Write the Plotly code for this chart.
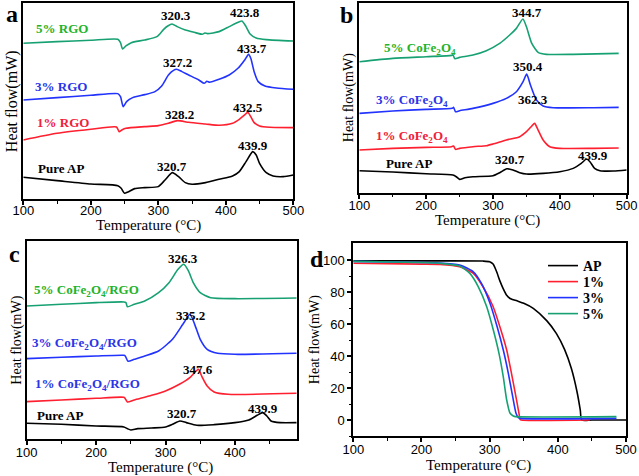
import plotly.graph_objects as go

# ---------------- Panel a : AP with RGO (DSC, arbitrary units) ----------------
a_ap_T = [100, 150, 200, 240, 245, 250, 255, 265, 280, 300, 310, 320.7, 330, 340, 350, 370, 390, 410, 420, 430, 439.9, 445, 450, 460, 470, 485, 500]
a_ap_v = [68, 58, 48, 43, 35, 20, 24, 34, 37, 40, 60, 82, 70, 52, 47, 52, 62, 72, 85, 115, 145, 135, 110, 82, 72, 70, 75]
a_1_T = [100, 150, 200, 238, 242, 246, 252, 280, 300, 315, 328.2, 345, 370, 390, 410, 420, 428, 432.5, 437, 442, 450, 465, 500]
a_1_v = [180, 200, 212, 219, 205, 210, 215, 220, 223, 230, 238, 233, 228, 224, 230, 242, 255, 263, 250, 232, 222, 218, 217]
a_3_T = [100, 150, 200, 240, 244, 248, 253, 262, 280, 295, 305, 315, 322, 327.2, 335, 345, 360, 368, 372, 376, 390, 405, 418, 428, 433.7, 437, 442, 448, 458, 475, 500]
a_3_v = [300, 307, 314, 319, 310, 280, 295, 307, 316, 325, 342, 375, 388, 392, 385, 375, 360, 350, 356, 353, 362, 375, 395, 420, 437, 425, 385, 355, 342, 336, 332]
a_5_T = [100, 150, 200, 240, 244, 247, 252, 260, 280, 298, 308, 314, 320.3, 328, 340, 355, 365, 369, 373, 390, 405, 415, 423.8, 430, 436, 445, 460, 500]
a_5_v = [470, 475, 479, 482, 472, 453, 462, 472, 480, 490, 512, 522, 528, 520, 510, 502, 497, 501, 499, 505, 520, 530, 537, 520, 498, 486, 481, 477]

# ---------------- Panel b : AP with CoFe2O4 ----------------
b_ap_T = [100, 150, 200, 240, 245, 250, 258, 270, 300, 310, 320.7, 330, 340, 350, 375, 400, 420, 432, 439.9, 445, 452, 460, 480, 500]
b_ap_v = [68, 64, 59, 55, 50, 42, 47, 50, 53, 62, 74, 70, 62, 58, 60, 65, 75, 90, 103, 95, 75, 68, 67, 70]
b_1_T = [100, 150, 200, 238, 241, 244, 250, 270, 290, 300, 320, 340, 350, 358, 362.3, 367, 375, 385, 400, 450, 488]
b_1_v = [130, 135, 138, 140, 142, 132, 135, 140, 143, 148, 160, 170, 185, 202, 210, 192, 160, 140, 135, 135, 136]
b_3_T = [100, 150, 200, 239, 241, 244, 250, 270, 300, 320, 335, 345, 350.4, 356, 365, 375, 390, 450, 488]
b_3_v = [240, 247, 252, 255, 258, 245, 248, 255, 270, 285, 305, 335, 358, 325, 280, 262, 257, 257, 258]
b_5_T = [100, 150, 200, 238, 240, 243, 250, 270, 290, 310, 325, 335, 344.7, 350, 358, 368, 380, 420, 488]
b_5_v = [395, 405, 410, 414, 416, 404, 408, 415, 428, 450, 475, 495, 523, 500, 450, 422, 417, 417, 420]

# ---------------- Panel c : AP with CoFe2O4/RGO ----------------
c_ap_T = [100, 150, 200, 240, 245, 250, 260, 280, 300, 310, 320.7, 330, 345, 370, 400, 420, 432, 439.9, 446, 452, 465, 489]
c_ap_v = [50, 47, 42, 39, 34, 30, 34, 36, 39, 47, 57, 52, 44, 46, 52, 60, 74, 82, 72, 57, 52, 52]
c_1_T = [100, 150, 200, 240, 242, 245, 255, 280, 300, 320, 335, 344, 347.6, 352, 360, 370, 390, 489]
c_1_v = [115, 120, 125, 128, 124, 114, 120, 134, 147, 167, 187, 207, 212, 192, 162, 144, 137, 140]
c_3_T = [100, 150, 200, 240, 242, 246, 255, 270, 290, 310, 325, 335.2, 342, 350, 360, 375, 400, 489]
c_3_v = [244, 248, 252, 254, 252, 236, 242, 252, 267, 302, 347, 377, 347, 302, 272, 260, 257, 260]
c_5_T = [100, 150, 200, 240, 243, 245, 255, 270, 290, 305, 318, 326.3, 333, 340, 350, 365, 400, 489]
c_5_v = [402, 407, 412, 414, 412, 400, 407, 417, 442, 472, 512, 527, 507, 472, 442, 427, 424, 426]

# ---------------- Panel d : TG curves ----------------
d_ap_T = [100, 200, 290, 300, 305, 310, 315, 320, 325, 330, 340, 350, 364, 384, 398, 410, 420, 428, 433, 435, 450, 500]
d_ap_v = [99.6, 99.5, 99.4, 99.0, 97.5, 93, 87, 82, 78, 76, 74.5, 73, 69.8, 62, 54, 44, 32, 18, 6, 0, 0, 0]
d_1_T = [100, 200, 227, 256, 276, 290, 305, 315, 325, 332, 338.5, 343, 344.5, 346, 447]
d_1_v = [98, 97.5, 97.3, 95.8, 91.7, 83.5, 71, 58.3, 43.75, 29.2, 14.6, 4.2, 0.4, 0, 0]
d_3_T = [100, 200, 227, 256, 276, 288, 300.5, 311, 320, 327.4, 333.8, 338.7, 342, 345, 486]
d_3_v = [99.2, 98.5, 98.2, 96.9, 92.7, 85.4, 73, 58.3, 43.75, 29.2, 14.6, 4.2, 1.5, 1, 1]
d_5_T = [100, 200, 227, 256, 271, 283.4, 295.7, 305.4, 313.7, 320, 325, 330, 334.7, 338, 486]
d_5_v = [99.2, 98.5, 98.0, 96.3, 91.7, 83.3, 70.8, 56.25, 41.7, 27, 12.5, 4.2, 2.5, 2.1, 2.1]

x_ticks = [100, 200, 300, 400, 500]
y_ticks_d = [0, 20, 40, 60, 80, 100]

BLACK = "#000000"
RED = "#ff1f2f"
BLUE = "#2233ff"
GREEN = "#17a173"
RED_T = "#f0203a"
BLUE_T = "#2a35e8"
GREEN_T = "#22b32a"

SERIF = "Liberation Serif"
SANS = "Liberation Sans"

W, H = 639, 476

fig = go.Figure()

def add(T, v, color, xa, ya, name=None, legend=None):
    fig.add_trace(go.Scatter(
        x=T, y=v, mode="lines", name=name, showlegend=legend is not None,
        legend=legend if legend else "legend",
        line=dict(color=color, width=1.6, shape="spline", smoothing=0.6),
        xaxis=xa, yaxis=ya, hoverinfo="skip"))

for T, v, c in [(a_ap_T, a_ap_v, BLACK), (a_1_T, a_1_v, RED), (a_3_T, a_3_v, BLUE), (a_5_T, a_5_v, GREEN)]:
    add(T, v, c, "x", "y")
for T, v, c in [(b_ap_T, b_ap_v, BLACK), (b_1_T, b_1_v, RED), (b_3_T, b_3_v, BLUE), (b_5_T, b_5_v, GREEN)]:
    add(T, v, c, "x2", "y2")
for T, v, c in [(c_ap_T, c_ap_v, BLACK), (c_1_T, c_1_v, RED), (c_3_T, c_3_v, BLUE), (c_5_T, c_5_v, GREEN)]:
    add(T, v, c, "x3", "y3")
legend_rows = [266, 282, 298, 314]
for (T, v, c, n), lg in zip([(d_ap_T, d_ap_v, BLACK, "AP"), (d_1_T, d_1_v, RED, "1%"),
                             (d_3_T, d_3_v, BLUE, "3%"), (d_5_T, d_5_v, GREEN, "5%")],
                            ["legend", "legend2", "legend3", "legend4"]):
    add(T, v, c, "x4", "y4", name="<b>%s</b>" % n, legend=lg)

def dx(p0, p1):
    return [p0 / W, p1 / W]
def dy(top, bottom):
    return [1 - bottom / H, 1 - top / H]

def xaxis(dom, rng, tickvals, anchor, lab_off):
    return dict(domain=dom, range=rng, anchor=anchor, automargin=False,
                showline=True, linecolor="black", linewidth=2, mirror=True,
                showgrid=False, zeroline=False,
                ticks="outside", ticklen=4, tickwidth=1.5, tickcolor="black",
                tickvals=tickvals, ticktext=[str(t) for t in tickvals],
                ticklabelstandoff=lab_off,
                tickfont=dict(family=SANS, size=13, color="black"),
                minor=dict(tickvals=[150, 250, 350, 450], ticks="outside", ticklen=2.5, tickwidth=1.2, tickcolor="black"))

def yaxis_blank(dom, rng, anchor, size):
    return dict(domain=dom, range=rng, anchor=anchor, automargin=False,
                showline=True, linecolor="black", linewidth=2, mirror=True,
                showgrid=False, zeroline=False, ticks="", showticklabels=False,
                title=dict(text="Heat flow(mW)", font=dict(family=SERIF, size=size, color="black"), standoff=0))

def legend_at(py):
    return dict(x=543 / W, y=1 - py / H, xanchor="left", yanchor="middle",
                bgcolor="rgba(0,0,0,0)", borderwidth=0,
                font=dict(family=SERIF, size=14, color="black"), itemwidth=30)

layout = dict(
    width=W, height=H, margin=dict(l=0, r=0, t=0, b=0, autoexpand=False),
    paper_bgcolor="white", plot_bgcolor="white",
    xaxis=xaxis(dx(23.3, 293.3), [100, 500], x_ticks, "y", -6),
    yaxis=yaxis_blank(dy(3.3, 199.3), [2, 590], "x", 16),
    xaxis2=xaxis(dx(359.3, 626.7), [100, 500], x_ticks, "y2", -4),
    yaxis2=yaxis_blank(dy(2.7, 192.7), [2, 572], "x2", 14),
    xaxis3=xaxis(dx(26.7, 296.7), [100, 489], x_ticks[:4], "y3", -4),
    yaxis3=yaxis_blank(dy(241, 439.3), [2, 597], "x3", 14),
    xaxis4=xaxis(dx(353.3, 626), [100, 500], x_ticks, "y4", -4),
    yaxis4=dict(domain=dy(243.3, 436), range=[-10, 110.5], anchor="x4", automargin=False,
                showline=True, linecolor="black", linewidth=2, mirror=True,
                showgrid=False, zeroline=False,
                ticks="outside", ticklen=4, tickwidth=1.5, tickcolor="black",
                tickvals=y_ticks_d, ticktext=[str(t) for t in y_ticks_d],
                tickfont=dict(family=SANS, size=13, color="black"),
                minor=dict(tickvals=[-10, 10, 30, 50, 70, 90], ticks="outside", ticklen=2.5, tickwidth=1.2, tickcolor="black"),
                title=dict(text="Heat flow(mW)", font=dict(family=SERIF, size=14, color="black"), standoff=0)),
    legend=legend_at(legend_rows[0]),
    legend2=legend_at(legend_rows[1]),
    legend3=legend_at(legend_rows[2]),
    legend4=legend_at(legend_rows[3]),
    showlegend=True,
)
fig.update_layout(**layout)

def ann(text, x, y, xr, yr, color="black", size=13, bold=True):
    fig.add_annotation(text=("<b>%s</b>" % text) if bold else text, x=x, y=y, xref=xr, yref=yr, showarrow=False,
                       font=dict(family=SERIF, size=size, color=color), xanchor="center", yanchor="middle")

# x-axis titles (one per panel)
for px, py in [(148.5, 225), (487, 220), (160, 467), (478.5, 465)]:
    ann("Temperature (°C)", px / W, 1 - py / H, "paper", "paper", size=15, bold=False)

# panel a labels
ann("5% RGO", 157.3, 513, "x", "y", GREEN_T)
ann("3% RGO", 155.9, 339, "x", "y", BLUE_T)
ann("1% RGO", 158.8, 231, "x", "y", RED_T)
ann("Pure AP", 155.9, 93, "x", "y")
ann("320.3", 326, 552, "x", "y")
ann("423.8", 428.4, 561, "x", "y")
ann("327.2", 327.7, 411, "x", "y")
ann("433.7", 438.7, 453, "x", "y")
ann("328.2", 332.1, 255, "x", "y")
ann("432.5", 432.9, 276, "x", "y")
ann("320.7", 320.3, 99, "x", "y")
ann("439.9", 440, 162, "x", "y")

# panel b labels
ann("5% CoFe<sub>2</sub>O<sub>4</sub>", 190.8, 435, "x2", "y2", GREEN_T)
ann("3% CoFe<sub>2</sub>O<sub>4</sub>", 178.3, 280, "x2", "y2", BLUE_T)
ann("1% CoFe<sub>2</sub>O<sub>4</sub>", 178.3, 170, "x2", "y2", RED_T)
ann("Pure AP", 174.3, 90, "x2", "y2")
ann("344.7", 350.4, 542, "x2", "y2")
ann("350.4", 352.9, 380, "x2", "y2")
ann("362.3", 360.3, 282, "x2", "y2")
ann("320.7", 325.4, 102, "x2", "y2")
ann("439.9", 450, 115, "x2", "y2")

# panel c labels
ann("5% CoFe<sub>2</sub>O<sub>4</sub>/RGO", 185.5, 447, "x3", "y3", GREEN_T)
ann("3% CoFe<sub>2</sub>O<sub>4</sub>/RGO", 182.6, 290, "x3", "y3", BLUE_T)
ann("1% CoFe<sub>2</sub>O<sub>4</sub>/RGO", 187.4, 167, "x3", "y3", BLUE_T)
ann("Pure AP", 148.5, 72, "x3", "y3")
ann("326.3", 325.6, 544, "x3", "y3")
ann("335.2", 336.7, 372, "x3", "y3")
ann("347.6", 347.2, 210, "x3", "y3")
ann("320.7", 323.2, 80, "x3", "y3")
ann("439.9", 440.9, 94, "x3", "y3")

# panel letters
for letter, px, py in [("a", 12, 14), ("b", 347, 15), ("c", 14, 254), ("d", 317, 259)]:
    ann(letter, px / W, 1 - py / H, "paper", "paper", size=24)

fig.write_html("out.html", config={"displayModeBar": False},
               post_script="document.body.style.margin='0';document.body.style.overflow='hidden';")
